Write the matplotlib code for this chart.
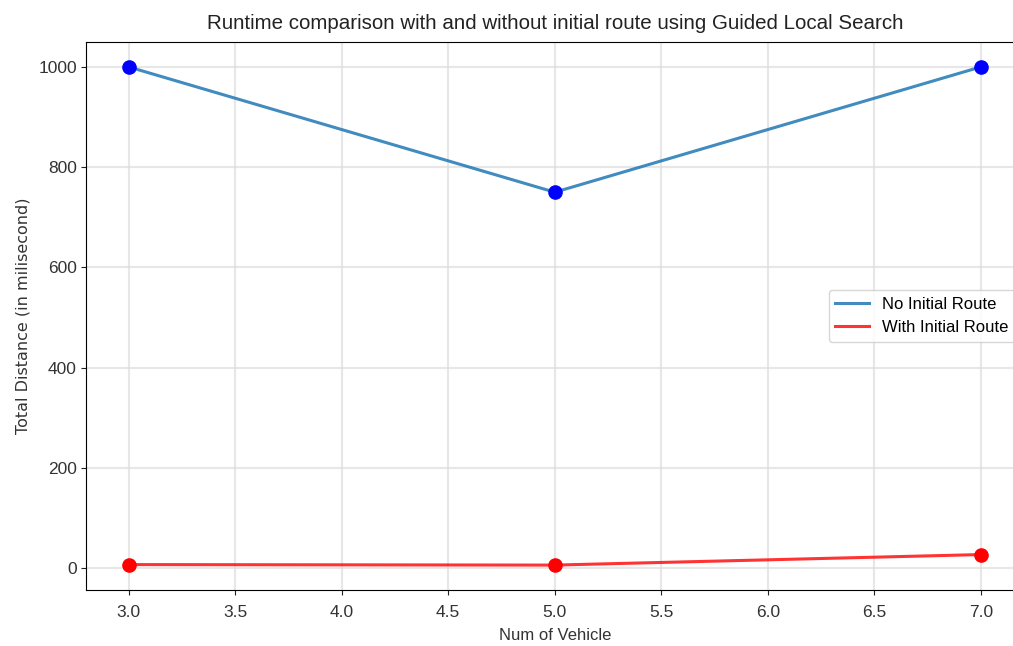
import matplotlib.pyplot as plt

num_vehicle = [3, 5, 7]
no_initial = [1000, 750, 1000]
with_initial = [7, 6, 27]

fig = plt.figure(figsize=(10.13, 6.46), dpi=100)
ax = fig.add_axes([0.0849, 0.0867, 0.9255, 0.8483])

cond = ['Liberation Sans Narrow', 'Liberation Sans', 'DejaVu Sans']

ax.plot(num_vehicle, no_initial, color='tab:blue', linewidth=2.2, alpha=0.85, label='No Initial Route')
ax.plot(num_vehicle, with_initial, color='red', linewidth=2.2, alpha=0.8, label='With Initial Route')
ax.plot(num_vehicle, no_initial, 'o', color='blue', markersize=9.5)
ax.plot(num_vehicle, with_initial, 'o', color='red', markersize=9.5)

ax.grid(True, color='#dddddd', linewidth=1.5, alpha=0.7)
ax.tick_params(colors='#222222', labelcolor='#333333')
ax.tick_params(axis='x', pad=7)
ax.tick_params(axis='y', pad=3)
ax.set_title('Runtime comparison with and without initial route using Guided Local Search',
             fontsize=14.8, family=cond, pad=9, color='#222222')
ax.set_xlabel('Num of Vehicle', fontsize=12, family=cond, color='#333333', labelpad=6)
ax.set_ylabel('Total Distance (in milisecond)', fontsize=11.5, color='#333333', labelpad=6)
for lab in ax.get_xticklabels() + ax.get_yticklabels():
    lab.set_family(cond)
    lab.set_fontsize(12.5)
ax.legend(loc='center right', prop={'family': cond, 'size': 12})

fig.savefig('out.png', dpi=100)
